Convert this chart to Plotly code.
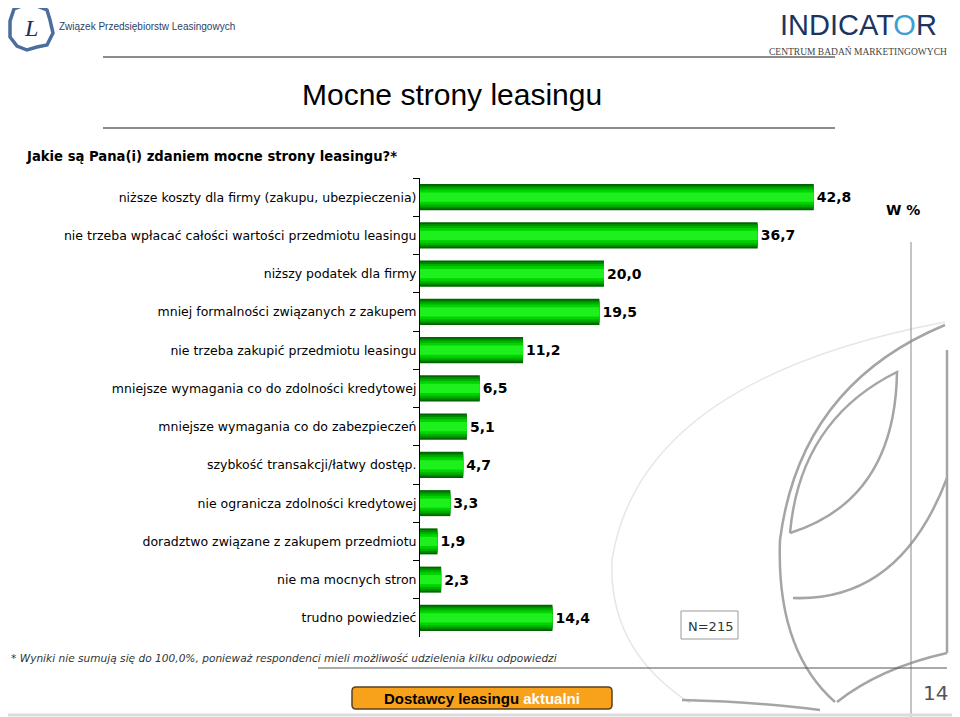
import plotly.graph_objects as go

# data
categories = [
    "niższe koszty dla firmy (zakupu, ubezpieczenia)",
    "nie trzeba wpłacać całości wartości przedmiotu leasingu",
    "niższy podatek dla firmy",
    "mniej formalności związanych z zakupem",
    "nie trzeba zakupić przedmiotu leasingu",
    "mniejsze wymagania co do zdolności kredytowej",
    "mniejsze wymagania co do zabezpieczeń",
    "szybkość transakcji/łatwy dostęp.",
    "nie ogranicza zdolności kredytowej",
    "doradztwo związane z zakupem przedmiotu",
    "nie ma mocnych stron",
    "trudno powiedzieć",
]
values = [42.8, 36.7, 20.0, 19.5, 11.2, 6.5, 5.1, 4.7, 3.3, 1.9, 2.3, 14.4]

title = "Mocne strony leasingu"
question = "Jakie są Pana(i) zdaniem mocne strony leasingu?*"
footnote = ("* Wyniki nie sumują się do 100,0%, ponieważ respondenci "
            "mieli możliwość udzielenia kilku odpowiedzi")
sample = "N=215"
page_no = "14"

# the page body has an 8px margin, so the figure is a bit smaller
OFF = 8
W, H = 960 - OFF, 717 - OFF
L, R, T, B = 420 - OFF, 80, 178 - OFF, 80
PW, PH = W - L - R, H - T - B


def xp(px):
    # page pixel -> paper
    return (px - OFF - L) / PW


def yp(py):
    return (H - B - (py - OFF)) / PH


# fake the cylinder shading with stacked bars of shrinking width
shades = [
    (0.68, '#006400'),
    (0.60, '#008c00'),
    (0.50, '#00b000'),
    (0.38, '#00d400'),
    (0.24, '#1ef01e'),
]

fig = go.Figure()
for i, (width, color) in enumerate(shades):
    fig.add_trace(
        go.Bar(
            y=categories,
            x=values,
            orientation='h',
            width=width,
            marker=dict(color=color, line=dict(width=0)),
            text=[f"{v:.1f}".replace(".", ",") for v in values] if i == 0 else None,
            texttemplate="<b>%{text}</b>" if i == 0 else None,
            textposition='outside' if i == 0 else 'none',
            textfont=dict(family="DejaVu Sans", size=14, color='black'),
            cliponaxis=False,
            hoverinfo='skip',
            showlegend=False,
        )
    )

fig.update_layout(
    width=W,
    height=H,
    margin=dict(l=L, r=R, t=T, b=B),
    barmode='overlay',
    paper_bgcolor='white',
    plot_bgcolor='rgba(0,0,0,0)',
    font=dict(family="DejaVu Sans", color='black'),
    xaxis=dict(range=[0, 50], visible=False, fixedrange=True),
    yaxis=dict(
        type='category',
        autorange='reversed',
        showline=True,
        linecolor='black',
        linewidth=1,
        ticks='outside',
        tickson='boundaries',
        ticklen=6,
        tickcolor='black',
        tickfont=dict(family="DejaVu Sans", size=12.5, color='black'),
        showgrid=False,
        fixedrange=True,
    ),
)


def line(x0, y0, x1, y1, color, width):
    return dict(type='line', xref='paper', yref='paper', layer='below',
                x0=xp(x0), x1=xp(x1), y0=yp(y0), y1=yp(y1),
                line=dict(color=color, width=width))


def curve(pts, color, width, layer='below'):
    # pts: start point then (control, end) pairs, in page pixels
    d = f"M {xp(pts[0][0])} {yp(pts[0][1])}"
    for c, e in zip(pts[1::2], pts[2::2]):
        d += f" Q {xp(c[0])} {yp(c[1])} {xp(e[0])} {yp(e[1])}"
    return dict(type='path', xref='paper', yref='paper', path=d, layer=layer,
                line=dict(color=color, width=width))


shapes = [
    # header rules
    line(103, 57, 835, 57, '#8c8c8c', 2),
    line(103, 128, 835, 128, '#8c8c8c', 2),
    # watermark leaf
    curve([(945, 322), (640, 380), (612, 560), (608, 650), (690, 703)], '#e6e6e6', 1.5),
    curve([(945, 325), (800, 385), (780, 540), (776, 650), (835, 702)], '#a5a5a5', 2.5),
    curve([(790, 533), (800, 420), (897, 372), (895, 500), (790, 533)], '#a5a5a5', 2.5),
    curve([(793, 598), (900, 602), (947, 478)], '#a5a5a5', 2.5),
    line(947, 350, 947, 653, '#a5a5a5', 2.5),
    curve([(947, 653), (880, 668), (837, 702)], '#a5a5a5', 2.5),
    curve([(682, 700), (760, 702), (820, 710)], '#a5a5a5', 2.5),
    line(911, 242, 911, 717, '#8a8a8a', 1),
    # footnote rule and bottom rule
    line(318, 668, 947, 668, '#555', 1),
    line(0, 715, 960, 715, '#dcdcdc', 3),
    # N box
    dict(type='rect', xref='paper', yref='paper',
         x0=xp(681), x1=xp(738), y0=yp(639), y1=yp(611),
         line=dict(color='#9a9a9a', width=1), fillcolor='white'),
]

# orange button with rounded corners
bx0, bx1, by0, by1 = xp(352), xp(612), yp(709), yp(687)
rr, ry = 4 / PW, 4 / PH
button = (f"M {bx0 + rr} {by0} L {bx1 - rr} {by0} Q {bx1} {by0} {bx1} {by0 + ry} "
          f"L {bx1} {by1 - ry} Q {bx1} {by1} {bx1 - rr} {by1} "
          f"L {bx0 + rr} {by1} Q {bx0} {by1} {bx0} {by1 - ry} "
          f"L {bx0} {by0 + ry} Q {bx0} {by0} {bx0 + rr} {by0} Z")
shapes.append(dict(type='path', xref='paper', yref='paper', path=button,
                   fillcolor='#f8a21c', line=dict(color='#5a4020', width=1.5)))

# left logo outline (map of Poland, roughly)
pts = [(14, 9), (24, 5), (37, 6), (47, 10), (50, 20), (53, 33), (47, 45),
       (37, 47), (27, 50), (17, 46), (10, 37), (10, 21)]
logo = "M " + " L ".join(f"{xp(a)} {yp(b)}" for a, b in pts) + " Z"
shapes.append(dict(type='path', xref='paper', yref='paper', path=logo,
                   line=dict(color='#4b6e9e', width=3.5), fillcolor='white'))
fig.update_layout(shapes=shapes)


def note(text, x, y, size, xanchor='left', family="DejaVu Sans", color='black',
         yanchor='middle', **kw):
    fig.add_annotation(text=text, x=xp(x), y=yp(y), xref='paper', yref='paper',
                       xanchor=xanchor, yanchor=yanchor, showarrow=False,
                       font=dict(family=family, size=size, color=color), **kw)


note(title, 452, 95, 30, xanchor='center', family="Liberation Sans")
note(f"<b>{question}</b>", 24, 157, 13.2)
note("<b>W %</b>", 903, 210, 14, xanchor='center')
note(sample, 710, 626, 13, xanchor='center', color='#333')
note(f"<i>{footnote}</i>", 9, 658, 10.6, color='#333')
note("<b>Dostawcy leasingu <span style='color:white'>aktualni</span></b>",
     482, 698, 15, xanchor='center', family="Liberation Sans")
note(page_no, 935, 693, 20, xanchor='center', color='#555')
note("<i>L</i>", 31, 28, 24, xanchor='center', family="Liberation Serif", color='#1c2f55')
note("Związek Przedsiębiorstw Leasingowych", 57, 26, 10,
     family="Liberation Sans", color='#2a3f6a')
note("INDICAT<span style='color:#3aa0d0'>O</span>R", 858, 8, 29, xanchor='center',
     yanchor='top', family="Liberation Sans", color='#1c3560', borderpad=0)
note("CENTRUM BADAŃ MARKETINGOWYCH", 858, 45, 9.5, xanchor='center',
     yanchor='top', family="Liberation Serif", color='#444', borderpad=0)

fig.write_html("out.html")
